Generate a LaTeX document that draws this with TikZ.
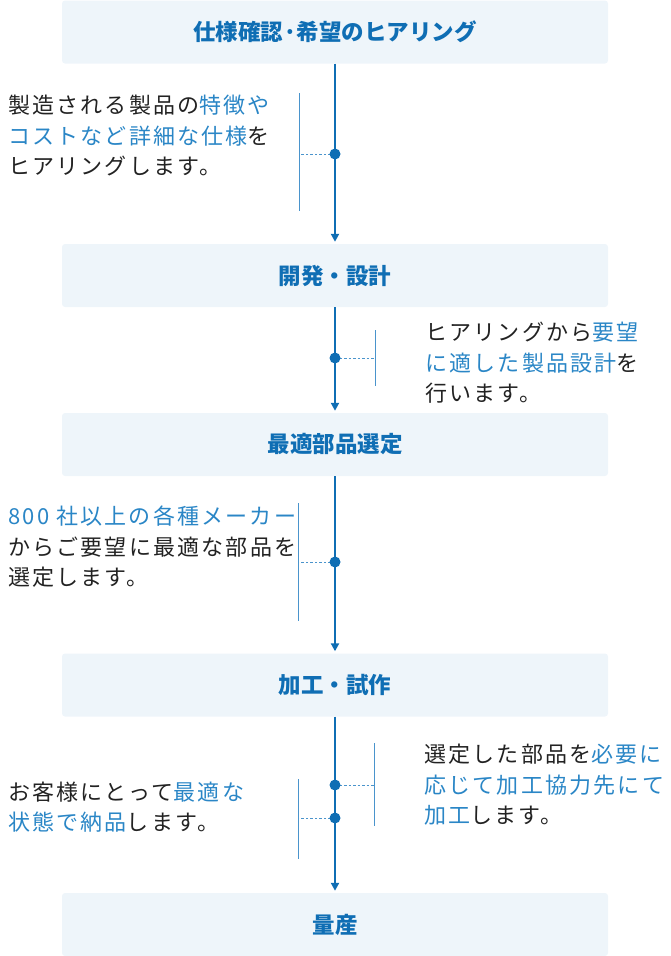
\documentclass[tikz,border=0pt]{standalone}
\usepackage{fontspec}
\usepackage{xcolor}
\usepackage{tikz}
\usetikzlibrary{arrows.meta, positioning}
\setmainfont{Noto Sans CJK JP}
\newfontfamily\bodyfont[LetterSpace=10]{Noto Sans CJK JP}

\definecolor{flowblue}{HTML}{0F6EB4}
\definecolor{hlblue}{HTML}{2A86C6}
\definecolor{guideblue}{HTML}{4A94CC}
\definecolor{boxfill}{HTML}{EEF5FA}
\definecolor{textdark}{HTML}{222222}
\newcommand{\hl}[1]{\textcolor{hlblue}{#1}}

\begin{document}
\begin{tikzpicture}[x=1pt, y=-1pt,
    stepbox/.style={fill=boxfill, rounded corners=3pt, minimum width=546pt, minimum height=63pt,
        inner sep=0pt, text=flowblue, font=\bfseries\fontsize{22.5}{22.5}\selectfont},
    note/.style={align=left, inner sep=0pt, text=textdark, font=\bodyfont\fontsize{22}{30.5}\selectfont},
    flowline/.style={draw=flowblue, line width=2pt, -{Triangle[width=8pt, length=8pt]}, shorten >=2pt},
    guide/.style={draw=guideblue, line width=1pt},
    leader/.style={draw=guideblue, line width=1pt, dash pattern=on 2.5pt off 2pt},
    dot/.style={fill=flowblue}]
    \useasboundingbox (0,0) rectangle (670,956);

    % 工程
    \node[stepbox] (hearing) at (335,32) {仕様確認·希望のヒアリング};
    \node[stepbox] (design) at (335,275.5) {開発・設計};
    \node[stepbox] (parts) at (335,444.5) {最適部品選定};
    \node[stepbox] (process) at (335,685) {加工・試作};
    \node[stepbox] (mass) at (335,924.5) {量産};

    % 流れ
    \draw[flowline] (hearing.south) -- (design.north);
    \draw[flowline] (design.south) -- (parts.north);
    \draw[flowline] (parts.south) -- (process.north);
    \draw[flowline] (process.south) -- (mass.north);

    % ヒアリング
    \coordinate (d1) at (335,154);
    \coordinate (g1t) at (299,93);
    \coordinate (g1b) at (299,211);
    \draw[guide] (g1t) -- (g1b);
    \draw[leader] (d1) -- (d1 -| g1t);
    \fill[dot] (d1) circle (5.5);
    \node[note, anchor=west] (hearingnote) at (8,136)
        {製造される製品の\hl{特徴や}\\\hl{コストなど詳細な仕様}を\\ヒアリングします。};

    % 開発・設計
    \coordinate (d2) at (335,358);
    \coordinate (g2t) at (375,330);
    \coordinate (g2b) at (375,386);
    \draw[guide] (g2t) -- (g2b);
    \draw[leader] (d2) -- (d2 -| g2t);
    \fill[dot] (d2) circle (5.5);
    \node[note, anchor=west] (designnote) at (425,363)
        {ヒアリングから\hl{要望}\\\hl{に適した製品設計}を\\行います。};

    % 最適部品選定
    \coordinate (d3) at (335,562);
    \coordinate (g3t) at (298,503);
    \coordinate (g3b) at (298,621);
    \draw[guide] (g3t) -- (g3b);
    \draw[leader] (d3) -- (d3 -| g3t);
    \fill[dot] (d3) circle (5.5);
    \node[note, anchor=west] (partsnote) at (8,547)
        {\hl{800 社以上の各種メーカー}\\からご要望に最適な部品を\\選定します。};

    % 加工・試作
    \coordinate (d4) at (335,785);
    \coordinate (g4t) at (374,743);
    \coordinate (g4b) at (374,826);
    \draw[guide] (g4t) -- (g4b);
    \draw[leader] (d4) -- (d4 -| g4t);
    \fill[dot] (d4) circle (5.5);
    \node[note, anchor=west] (processnote) at (424,785)
        {選定した部品を\hl{必要に}\\\hl{応じて加工協力先にて}\\\hl{加工}します。};

    % 納品
    \coordinate (d5) at (335,818);
    \coordinate (g5t) at (298,779);
    \coordinate (g5b) at (298,859);
    \draw[guide] (g5t) -- (g5b);
    \draw[leader] (d5) -- (d5 -| g5t);
    \fill[dot] (d5) circle (5.5);
    \node[note, anchor=west] (deliverynote) at (8,807)
        {お客様にとって\hl{最適な}\\\hl{状態で納品}します。};
\end{tikzpicture}
\end{document}
